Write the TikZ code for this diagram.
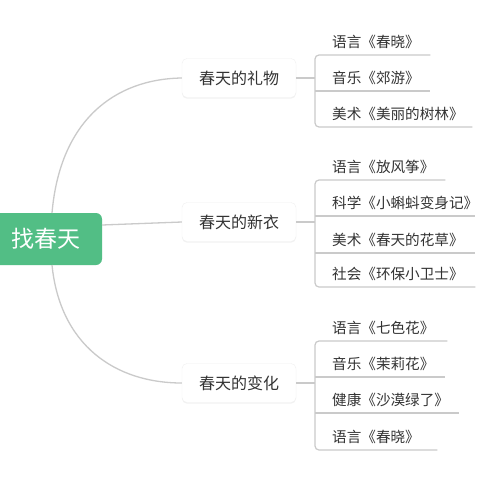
\documentclass[tikz,border=0pt]{standalone}
\usepackage{fontspec}
\newfontfamily\cjk{Noto Sans CJK SC}
\usetikzlibrary{shadows}
\definecolor{rootgreen}{HTML}{52BE85}
\definecolor{linegray}{HTML}{CACACA}
\definecolor{txt}{HTML}{333333}
\tikzset{
  rootbox/.style={fill=rootgreen, rounded corners=6pt, minimum width=112pt, minimum height=52pt,
    text=white, font=\cjk\fontsize{23}{26}\selectfont, inner sep=0pt},
  branchbox/.style={fill=white, draw=black!6, rounded corners=5pt, minimum width=114pt, minimum height=39pt,
    text=txt, font=\cjk\fontsize{16}{18}\selectfont, inner sep=0pt,
    drop shadow={opacity=0.10, shadow xshift=0pt, shadow yshift=-1.2pt}},
  leafbox/.style={anchor=south west, align=left, inner xsep=17pt, inner ysep=4pt,
    text height=10pt, text depth=3pt, text=txt, font=\cjk\fontsize{14.6}{16}\selectfont,
    text width=#1-34pt},
  conn/.style={draw=linegray, line width=1.3pt},
  spine/.style={draw=linegray, line width=1.2pt, rounded corners=4pt},
}
\begin{document}
\begin{tikzpicture}[x=1pt,y=-1pt]
\useasboundingbox (0,0) rectangle (480,480);
\fill[white] (0,0) rectangle (480,480);

% root and branches
\node[rootbox] (root) at (46,239) {找春天};
\node[branchbox] (b1) at (239,78) {春天的礼物};
\node[branchbox] (b2) at (239,222) {春天的新衣};
\node[branchbox] (b3) at (239,383) {春天的变化};

% leaves group 1
\node[leafbox=115pt] (l11) at (315,55) {语言《春晓》};
\node[leafbox=115pt] (l12) at (315,91) {音乐《郊游》};
\node[leafbox=157pt] (l13) at (315,127) {美术《美丽的树林》};
% leaves group 2
\node[leafbox=130pt] (l21) at (315,180) {语言《放风筝》};
\node[leafbox=160pt] (l22) at (315,216) {科学《小蝌蚪变身记》};
\node[leafbox=160pt] (l23) at (315,253) {美术《春天的花草》};
\node[leafbox=160pt] (l24) at (315,287) {社会《环保小卫士》};
% leaves group 3
\node[leafbox=132pt] (l31) at (315,341) {语言《七色花》};
\node[leafbox=130pt] (l32) at (315,377) {音乐《茉莉花》};
\node[leafbox=144pt] (l33) at (315,413) {健康《沙漠绿了》};
\node[leafbox=122pt] (l34) at (315,450) {语言《春晓》};

% root connectors
\coordinate (rt) at (52,213);
\coordinate (rm) at (102,225);
\coordinate (rb) at (52,265);
\draw[conn] (rt) .. controls (60,120) and (115,79) .. (b1.west);
\draw[conn] (rm) -- (b2.west);
\draw[conn] (rb) .. controls (60,345) and (115,383) .. (b3.west);

% group 1 spine
\draw[spine] (l11.south east) -- (l11.south west) -- (l13.south west) -- (l13.south east);
\draw[conn] (l12.south west) -- (l12.south east);
\draw[conn] (b1.east) -- (b1.east -| l11.south west);

% group 2 spine
\draw[spine] (l21.south east) -- (l21.south west) -- (l24.south west) -- (l24.south east);
\draw[conn] (l22.south west) -- (l22.south east);
\draw[conn] (l23.south west) -- (l23.south east);
\draw[conn] (b2.east) -- (b2.east -| l21.south west);

% group 3 spine
\draw[spine] (l31.south east) -- (l31.south west) -- (l34.south west) -- (l34.south east);
\draw[conn] (l32.south west) -- (l32.south east);
\draw[conn] (l33.south west) -- (l33.south east);
\draw[conn] (b3.east) -- (b3.east -| l31.south west);
\end{tikzpicture}
\end{document}
